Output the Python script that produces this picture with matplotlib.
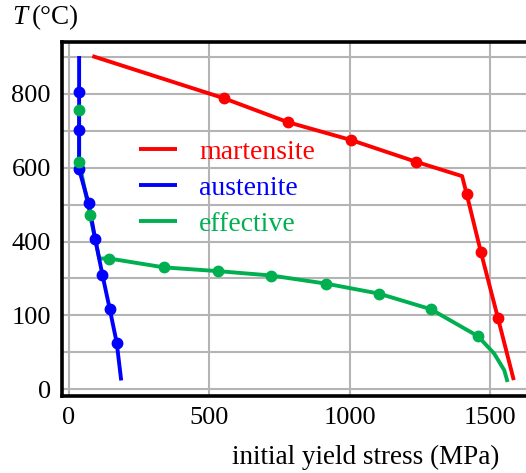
import matplotlib
matplotlib.use("Agg")
import matplotlib.pyplot as plt
from matplotlib.ticker import FixedLocator, FixedFormatter

# ---- data ----
mart_x = [83, 551, 780, 1004, 1236, 1401, 1417, 1468, 1529, 1585]
mart_y = [902, 788, 723, 675, 616, 577, 529, 371, 192, 25]
mart_mx = [551, 780, 1004, 1236, 1417, 1468, 1529]
mart_my = [788, 723, 675, 616, 529, 371, 192]

aus_x = [36, 36, 36, 36, 70, 93, 119, 145, 170, 186]
aus_y = [902, 804, 702, 595, 503, 408, 310, 218, 126, 24]
aus_mx = [36, 36, 36, 70, 93, 119, 145, 170]
aus_my = [804, 702, 595, 503, 408, 310, 218, 126]

eff_x = [36, 36, 75, 108, 144, 339, 530, 721, 917, 1105, 1289, 1457, 1515, 1551, 1563]
eff_y = [756, 616, 471, 354, 354, 330, 320, 308, 286, 259, 217, 144, 97, 52, 20]
eff_mx = [36, 36, 75, 144, 339, 530, 721, 917, 1105, 1289, 1457]
eff_my = [756, 616, 471, 354, 330, 320, 308, 286, 259, 217, 144]

x_ticks = [0, 500, 1000, 1500]
x_labels = ["0", "500", "1000", "1500"]
y_ticks = [0, 200, 400, 600, 800]
y_labels = ["0", "100", "400", "600", "800"]
y_grid = [100, 300, 500, 700, 900]

RED, BLUE, GREEN = "#ff0000", "#0000ff", "#00b050"
SERIF = ["Liberation Serif", "DejaVu Serif"]

plt.rcParams["font.family"] = SERIF

fig = plt.figure(figsize=(5.26, 4.73), dpi=100)
ax = fig.add_axes([62 / 526, 1 - 396 / 473, 470 / 526, 354 / 473])

lw = 2.8
ms = 7.5
ax.plot(eff_x, eff_y, color=GREEN, lw=lw, zorder=3, label="effective",
        solid_capstyle="butt")
ax.plot(aus_x, aus_y, color=BLUE, lw=lw, zorder=4, label="austenite",
        solid_capstyle="butt")
ax.plot(mart_x, mart_y, color=RED, lw=lw, zorder=4, label="martensite",
        solid_capstyle="butt")
ax.plot(aus_mx, aus_my, "o", color=BLUE, ms=ms, zorder=5)
ax.plot(mart_mx, mart_my, "o", color=RED, ms=ms, zorder=5)
ax.plot(eff_mx, eff_my, "o", color=GREEN, ms=ms, zorder=6)

ax.set_xlim(-25, 1650)
ax.set_ylim(-18, 940)

ax.xaxis.set_major_locator(FixedLocator(x_ticks))
ax.xaxis.set_major_formatter(FixedFormatter(x_labels))
ax.yaxis.set_major_locator(FixedLocator(y_ticks))
ax.yaxis.set_major_formatter(FixedFormatter(y_labels))
ax.yaxis.set_minor_locator(FixedLocator(y_grid))

ax.grid(True, which="major", color="#b4b4b4", lw=1.5, zorder=0)
ax.grid(True, which="minor", axis="y", color="#b4b4b4", lw=1.5, zorder=0)
ax.set_axisbelow(True)

ax.tick_params(which="both", length=0, labelsize=19, pad=8)
for lab in ax.get_xticklabels() + ax.get_yticklabels():
    lab.set_fontfamily(SERIF)
for s in ax.spines.values():
    s.set_linewidth(2.6)
    s.set_color("black")

h, l = ax.get_legend_handles_labels()
order = [2, 1, 0]
leg = ax.legend([h[i] for i in order], [l[i] for i in order],
                loc="upper left", bbox_to_anchor=(0.140, 0.756),
                frameon=False, fontsize=20, handlelength=1.38,
                handletextpad=0.78, labelspacing=0.38, borderaxespad=0)
for t, hh in zip(leg.get_texts(), leg.legend_handles):
    t.set_color(hh.get_color())

fig.text(366 / 526, 1 - 457 / 473, "initial yield stress (MPa)", fontsize=19.5,
         ha="center", va="center", family=SERIF)
fig.text(12 / 526, 1 - 18 / 473, "T", fontsize=19.5, style="italic",
         ha="left", va="center", family=SERIF)
fig.text(32 / 526, 1 - 18 / 473, "(°C)", fontsize=19.5,
         ha="left", va="center", family=SERIF)

fig.savefig("out.png", dpi=100)
